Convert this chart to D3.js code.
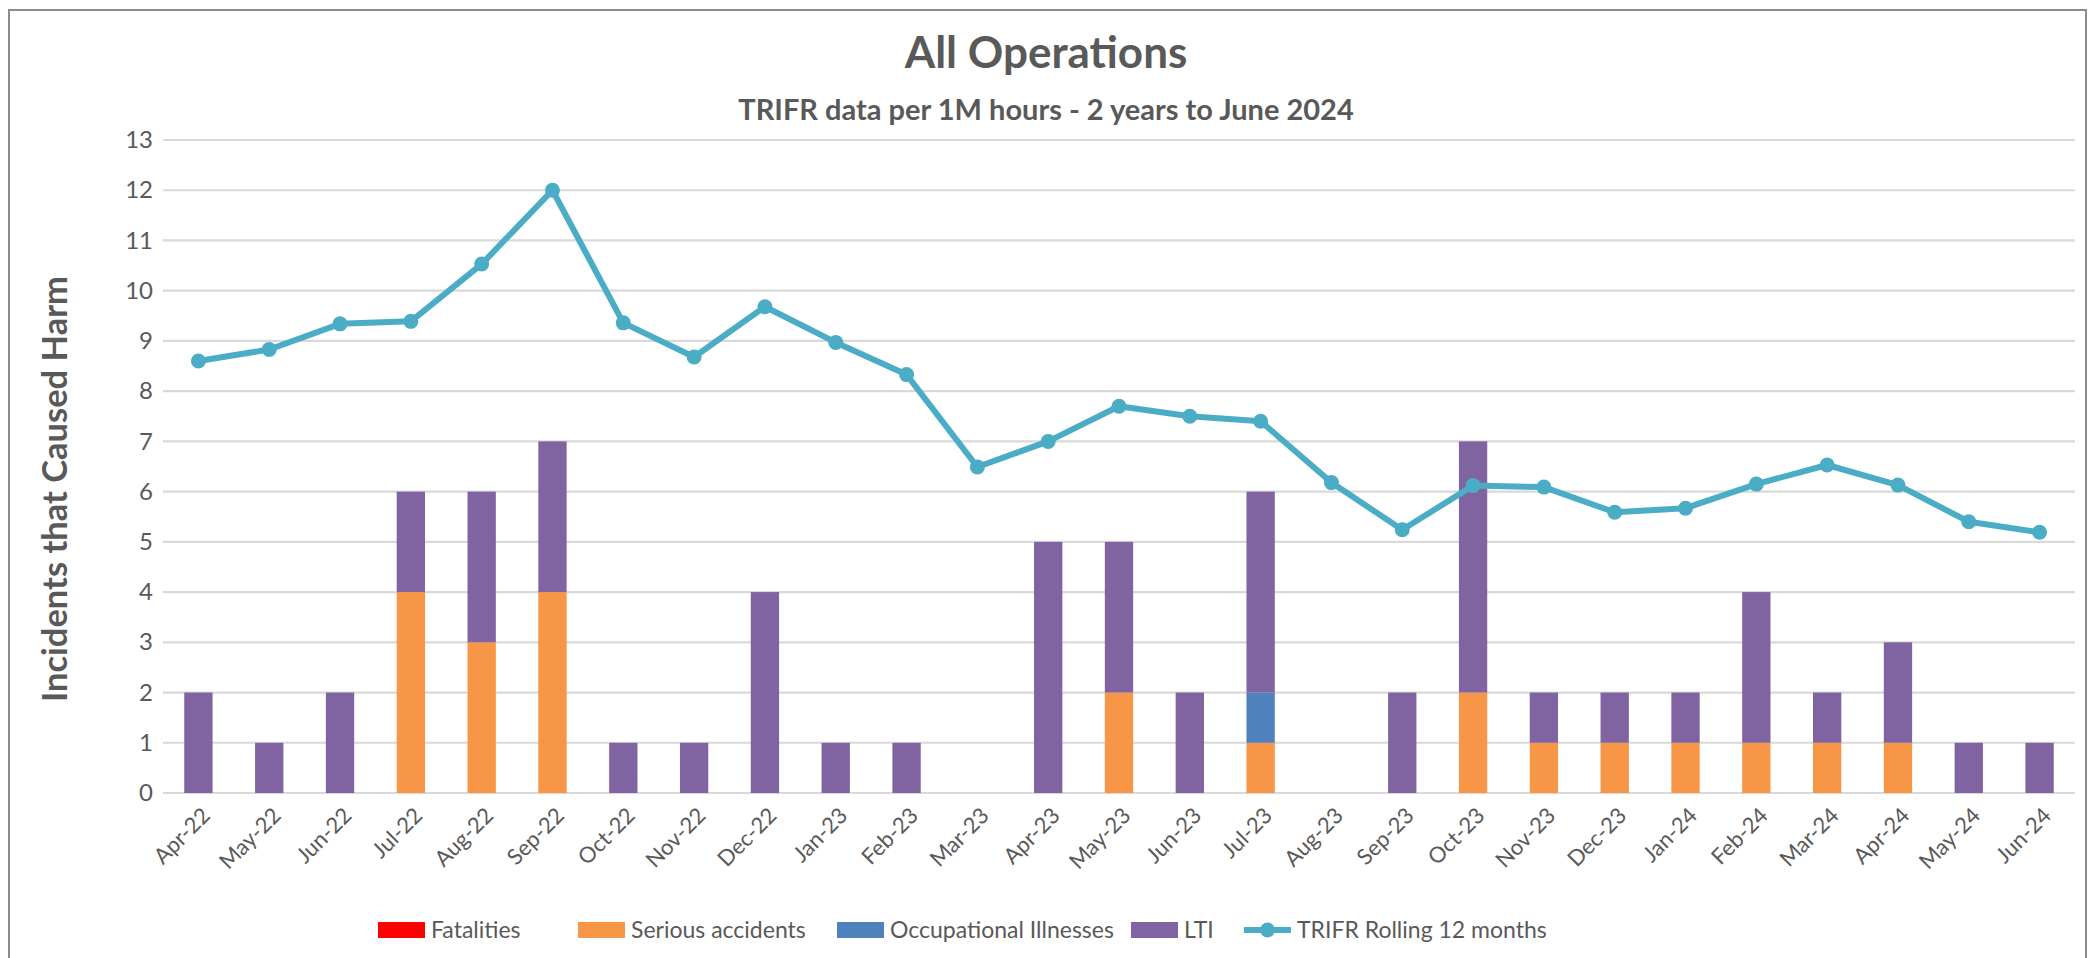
<!DOCTYPE html>
<html>
<head>
<meta charset="utf-8">
<script src="https://cdn.jsdelivr.net/npm/d3@7"></script>
<style>
  html, body { margin: 0; padding: 0; background: #fff; }
  svg { display: block; }
  text { font-family: Lato, "Liberation Sans", Arial, sans-serif; }
</style>
</head>
<body>
<svg id="chart" width="2093" height="958"></svg>
<script>
// ---- Data ----
const months = ["Apr-22","May-22","Jun-22","Jul-22","Aug-22","Sep-22","Oct-22","Nov-22","Dec-22","Jan-23","Feb-23","Mar-23","Apr-23","May-23","Jun-23","Jul-23","Aug-23","Sep-23","Oct-23","Nov-23","Dec-23","Jan-24","Feb-24","Mar-24","Apr-24","May-24","Jun-24"];
const fatalities   = [0,0,0,0,0,0,0,0,0,0,0,0,0,0,0,0,0,0,0,0,0,0,0,0,0,0,0];
const serious      = [0,0,0,4,3,4,0,0,0,0,0,0,0,2,0,1,0,0,2,1,1,1,1,1,1,0,0];
const occupational = [0,0,0,0,0,0,0,0,0,0,0,0,0,0,0,1,0,0,0,0,0,0,0,0,0,0,0];
const lti          = [2,1,2,2,3,3,1,1,4,1,1,0,5,3,2,4,0,2,5,1,1,1,3,1,2,1,1];
const trifr        = [8.6,8.83,9.34,9.39,10.53,12.0,9.36,8.68,9.68,8.97,8.33,6.49,7.0,7.7,7.5,7.4,6.18,5.24,6.12,6.09,5.59,5.67,6.15,6.53,6.13,5.4,5.19];
const yTicks = d3.range(0, 14);
const seriesNames = ["Fatalities","Serious accidents","Occupational Illnesses","LTI"];
const seriesColors = ["#ff0000","#f79646","#4f81bd","#8064a2"];
const lineName = "TRIFR Rolling 12 months";
const lineColor = "#4bacc6";
const titleText = "All Operations";
const subtitleText = "TRIFR data per 1M hours - 2 years to June 2024";
const yTitle = "Incidents that Caused Harm";

// ---- Layout ----
const svg = d3.select("#chart");
const plot = {left: 163, right: 2075, top: 140, bottom: 793};
const textColor = "#595959";
const font = "Lato, 'Liberation Sans', Arial, sans-serif";

svg.append("rect").attr("x", 9).attr("y", 10).attr("width", 2077).attr("height", 960)
  .attr("fill", "#fff").attr("stroke", "#8c8c8c").attr("stroke-width", 2);

const x = d3.scaleBand().domain(months).range([plot.left, plot.right]).paddingInner(0.6).paddingOuter(0.3);
const y = d3.scaleLinear().domain([0, 13]).range([plot.bottom, plot.top]);

// gridlines
svg.append("g").selectAll("line").data(yTicks).join("line")
  .attr("x1", plot.left).attr("x2", plot.right)
  .attr("y1", d => y(d)).attr("y2", d => y(d))
  .attr("stroke", "#d9d9d9").attr("stroke-width", 2.2);

// y axis
const yAxis = d3.axisLeft(y).tickValues(yTicks).tickSize(0).tickPadding(10);
const yg = svg.append("g").attr("transform", `translate(${plot.left},0)`).call(yAxis);
yg.select(".domain").remove();
yg.selectAll("text").attr("font-size", 24).attr("fill", textColor).attr("font-family", font);

// x axis labels
const xAxis = d3.axisBottom(x).tickSize(0).tickPadding(0);
const xg = svg.append("g").attr("transform", `translate(0,${plot.bottom})`).call(xAxis);
xg.select(".domain").remove();
xg.selectAll("text")
  .attr("font-size", 22).attr("fill", textColor)
  .attr("font-family", font)
  .attr("text-anchor", "end")
  .attr("dy", null).attr("y", 0)
  .attr("transform", "translate(13,24) rotate(-45)");

// stacked bars
const table = months.map((m, i) => ({month: m, s0: fatalities[i], s1: serious[i], s2: occupational[i], s3: lti[i]}));
const stacked = d3.stack().keys(["s0","s1","s2","s3"])(table);
svg.append("g").selectAll("g").data(stacked).join("g")
  .attr("fill", (d, i) => seriesColors[i])
  .selectAll("rect").data(d => d).join("rect")
  .attr("x", d => x(d.data.month))
  .attr("width", x.bandwidth())
  .attr("y", d => y(d[1]))
  .attr("height", d => Math.max(0, y(d[0]) - y(d[1])));

// line
const cx = m => x(m) + x.bandwidth() / 2;
const line = d3.line().x((d, i) => cx(months[i])).y(d => y(d));
svg.append("path").datum(trifr).attr("d", line)
  .attr("fill", "none").attr("stroke", lineColor).attr("stroke-width", 6).attr("stroke-linejoin", "round");
svg.append("g").selectAll("circle").data(trifr).join("circle")
  .attr("cx", (d, i) => cx(months[i])).attr("cy", d => y(d)).attr("r", 7.5)
  .attr("fill", lineColor);

// titles
svg.append("text").attr("x", 1046).attr("y", 68).attr("text-anchor", "middle")
  .attr("font-size", 44).attr("font-weight", "bold").attr("fill", textColor).text(titleText);
svg.append("text").attr("x", 1046).attr("y", 120).attr("text-anchor", "middle")
  .attr("font-size", 29).attr("font-weight", "bold").attr("fill", textColor).text(subtitleText);
svg.append("text").attr("transform", `translate(67,489) rotate(-90)`)
  .attr("text-anchor", "middle").attr("font-size", 34.5).attr("font-weight", "bold").attr("fill", textColor).text(yTitle);

// legend
const legendItems = [
  {name: seriesNames[0], color: seriesColors[0], type: "rect", x: 378},
  {name: seriesNames[1], color: seriesColors[1], type: "rect", x: 578},
  {name: seriesNames[2], color: seriesColors[2], type: "rect", x: 837},
  {name: seriesNames[3], color: seriesColors[3], type: "rect", x: 1131},
  {name: lineName, color: lineColor, type: "line", x: 1244}
];
const ly = 930;
const lg = svg.append("g");
legendItems.forEach(it => {
  if (it.type === "rect") {
    lg.append("rect").attr("x", it.x).attr("y", ly - 8).attr("width", 47).attr("height", 16).attr("fill", it.color);
  } else {
    lg.append("line").attr("x1", it.x).attr("x2", it.x + 47).attr("y1", ly).attr("y2", ly)
      .attr("stroke", it.color).attr("stroke-width", 6);
    lg.append("circle").attr("cx", it.x + 23.5).attr("cy", ly).attr("r", 7.5).attr("fill", it.color);
  }
  lg.append("text").attr("x", it.x + 53).attr("y", ly).attr("dy", "0.35em")
    .attr("font-size", 23).attr("fill", textColor).text(it.name);
});
</script>
</body>
</html>
